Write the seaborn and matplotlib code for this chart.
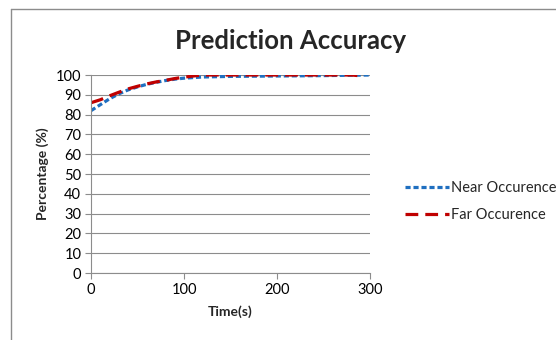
import matplotlib
matplotlib.use("Agg")
import matplotlib.pyplot as plt
import seaborn as sns
import pandas as pd
from matplotlib.lines import Line2D

sns.set_theme(style="white")
plt.rcParams['font.family'] = ['Lato', 'DejaVu Sans']

near_t = [0, 10, 20, 30, 40, 50, 60, 70, 80, 90, 100, 120, 150, 200, 250, 300]
near_v = [82, 85, 88, 90.5, 92.5, 94, 95.3, 96.3, 97.2, 97.9, 98.4, 99, 99.3, 99.5, 99.7, 100]
far_t = [0, 10, 20, 30, 40, 50, 60, 70, 80, 90, 100, 110, 120, 200, 280, 292]
far_v = [86, 87.5, 89.5, 91.3, 93, 94.3, 95.5, 96.5, 97.3, 98.2, 98.9, 99.5, 100, 100, 100, 99.5]
series_names = ["Near Occurence", "Far Occurence"]
colors = ["#1F6FC0", "#C00000"]

near_df = pd.DataFrame({"t": near_t, "v": near_v})
far_df = pd.DataFrame({"t": far_t, "v": far_v})

fig = plt.figure(figsize=(5.56, 3.4), dpi=100)
ax = fig.add_axes([0.1637, 0.197, 0.5018, 0.5824])

near_ls = (0, (1.6, 0.9))
far_ls = (0, (4, 2.2))
sns.lineplot(data=near_df, x="t", y="v", ax=ax, color=colors[0], lw=2.3,
             linestyle=near_ls, label=series_names[0])
sns.lineplot(data=far_df, x="t", y="v", ax=ax, color=colors[1], lw=2.3,
             linestyle=far_ls, label=series_names[1])

ax.set_xlim(0, 300)
ax.set_ylim(0, 100)
ax.set_xticks([0, 100, 200, 300])
ax.set_yticks(range(0, 101, 10))
ax.yaxis.grid(True, color="#8c8c8c", lw=0.8)
ax.xaxis.grid(False)
for s in ["top", "right"]:
    ax.spines[s].set_visible(False)
for s in ["left", "bottom"]:
    ax.spines[s].set_color("#8c8c8c")
    ax.spines[s].set_linewidth(0.8)
ax.tick_params(axis="both", direction="out", length=4, width=0.8, color="#8c8c8c",
               labelsize=10.5, labelcolor="black", pad=3, bottom=True, left=True)
ax.set_xlabel("Time(s)", fontsize=10, fontweight="bold", labelpad=6)
ax.set_ylabel("Percentage (%)", fontsize=10, fontweight="bold", labelpad=5)

fig.text(0.522, 0.88, "Prediction Accuracy", ha="center", va="center",
         fontsize=18.5, fontweight="bold")

handles = [Line2D([], [], color=colors[0], lw=2.3, linestyle=near_ls),
           Line2D([], [], color=colors[1], lw=2.3, linestyle=far_ls)]
ax.legend(handles, series_names, loc="center left", bbox_to_anchor=(1.08, 0.36),
          frameon=False, fontsize=10.5, handlelength=3.0, handletextpad=0.15,
          labelspacing=0.9)

fig.add_artist(Line2D([11/556, 11/556], [0, 1 - 9/340], color="#8c8c8c", lw=1,
                      transform=fig.transFigure))
fig.add_artist(Line2D([11/556, 1], [1 - 9/340, 1 - 9/340], color="#8c8c8c", lw=1,
                      transform=fig.transFigure))

fig.savefig("out.png", dpi=100)
